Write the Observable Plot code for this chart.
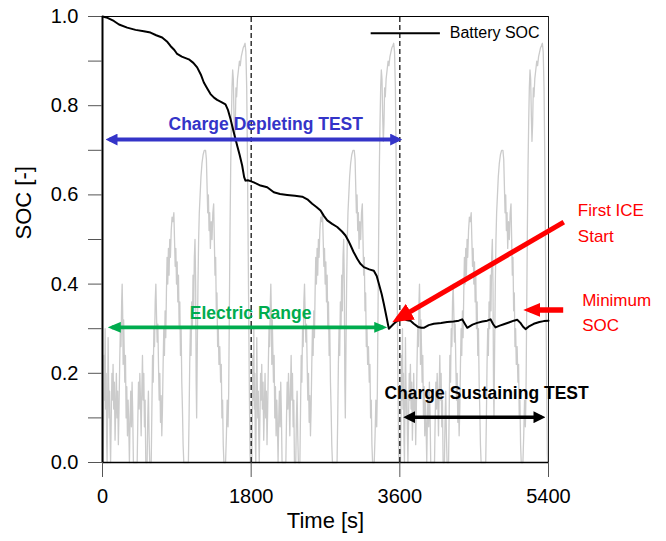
<!DOCTYPE html>
<html><head><meta charset="utf-8">
<script src="https://cdn.jsdelivr.net/npm/d3@7"></script>
<script src="https://cdn.jsdelivr.net/npm/@observablehq/plot@0.6"></script>
<style>html,body{margin:0;padding:0;background:#fff}</style>
</head><body><div id="chart"></div>
<script>
// ---- axes ----
const xTicks = [0, 1800, 3600, 5400];
const yTicks = [0, 0.1, 0.2, 0.3, 0.4, 0.5, 0.6, 0.7, 0.8, 0.9, 1.0];
const yTickLabels = ["0.0", "", "0.2", "", "0.4", "", "0.6", "", "0.8", "", "1.0"];

// ---- Battery SOC [time s, SOC] ----
const soc = [
  [0,1.0],[60,0.997],[137,0.990],[200,0.982],[299,0.975],[400,0.970],[500,0.967],[581,0.964],
  [650,0.958],[722,0.953],[780,0.944],[823,0.934],[870,0.925],[904,0.916],[960,0.910],[1045,0.904],
  [1100,0.896],[1146,0.886],[1190,0.870],[1227,0.852],[1270,0.838],[1308,0.826],[1350,0.818],
  [1388,0.813],[1440,0.808],[1489,0.803],[1520,0.790],[1550,0.770],[1590,0.740],[1631,0.710],
  [1660,0.690],[1691,0.666],[1715,0.640],[1731,0.632],[1760,0.633],[1792,0.631],[1832,0.628],
  [1913,0.621],[1994,0.617],[2074,0.606],[2150,0.602],[2236,0.600],[2330,0.598],[2418,0.596],
  [2480,0.590],[2539,0.580],[2590,0.573],[2640,0.565],[2680,0.553],[2721,0.543],[2780,0.535],
  [2842,0.528],[2900,0.518],[2942,0.509],[2975,0.498],[3003,0.487],[3040,0.472],[3084,0.457],
  [3120,0.446],[3164,0.438],[3230,0.433],[3285,0.430],[3320,0.418],[3346,0.401],[3380,0.378],
  [3406,0.356],[3440,0.325],[3467,0.300],[3500,0.306],[3527,0.311],[3570,0.318],[3608,0.320],
  [3648,0.322],[3690,0.319],[3729,0.318],[3769,0.311],[3820,0.304],[3860,0.302],[3890,0.302],
  [3950,0.308],[4011,0.311],[4100,0.313],[4173,0.315],[4250,0.316],[4314,0.318],[4355,0.321],
  [4390,0.310],[4416,0.302],[4480,0.309],[4537,0.313],[4600,0.316],[4658,0.318],[4698,0.321],
  [4730,0.310],[4759,0.303],[4810,0.307],[4859,0.310],[4920,0.314],[4980,0.318],[5021,0.320],
  [5060,0.313],[5090,0.305],[5122,0.299],[5170,0.306],[5222,0.311],[5290,0.315],[5343,0.317],[5400,0.318]
];

// ---- driving cycle (scaled vehicle speed), one 1800 s cycle, driven 3 times ----
const grayCycle = [
  [0,0],[8,0],[14,0.10],[20,0.24],[26,0.14],[32,0.30],[38,0.12],[44,0.20],[50,0.05],[56,0.0],
  [62,0.13],[68,0.28],[74,0.18],[80,0.10],[86,0.16],[92,0.06],[98,0.0],[106,0.10],[114,0.20],
  [120,0.14],[128,0.22],[136,0.12],[144,0.18],[152,0.05],[160,0.12],[168,0.20],[176,0.10],
  [184,0.16],[192,0.04],[200,0.12],[208,0.22],[216,0.30],[224,0.26],[232,0.36],[238,0.40],
  [244,0.34],[250,0.22],[256,0.32],[262,0.26],[270,0.18],[278,0.24],[286,0.10],[294,0.17],
  [302,0.06],[310,0.14],[318,0.08],[326,0.0],[334,0.10],[342,0.16],[350,0.08],[358,0.18],
  [366,0.11],[374,0.0],[420,0.0],[428,0.10],[436,0.18],[444,0.12],[452,0.20],[460,0.14],
  [468,0.06],[476,0.16],[484,0.24],[492,0.14],[500,0.20],[508,0.08],[516,0.14],[524,0.0],
  [540,0.0],[548,0.10],[556,0.16],[564,0.06],[572,0.0],
  [590,0.0],[598,0.12],[606,0.24],[614,0.18],[622,0.30],[630,0.26],[638,0.36],[646,0.40],
  [654,0.33],[662,0.27],[670,0.31],[678,0.22],[686,0.14],[694,0.20],[702,0.09],[710,0.15],
  [718,0.06],[726,0.12],[734,0.22],[742,0.30],[750,0.24],[758,0.34],[766,0.28],[774,0.38],
  [782,0.46],[790,0.40],[798,0.48],[806,0.42],[814,0.50],[822,0.46],[832,0.52],[842,0.55],
  [852,0.54],[864,0.56],[872,0.50],[880,0.44],[888,0.48],[896,0.40],[904,0.45],[912,0.36],
  [920,0.42],[928,0.30],[936,0.36],[944,0.24],[952,0.30],[960,0.18],[968,0.12],[976,0.04],
  [984,0.0],[1040,0.0],
  [1048,0.10],[1056,0.22],[1064,0.30],[1072,0.24],[1080,0.36],[1088,0.30],[1096,0.42],
  [1104,0.34],[1112,0.46],[1120,0.50],[1128,0.40],[1134,0.18],[1140,0.10],[1148,0.26],
  [1156,0.40],[1164,0.50],[1172,0.56],[1182,0.60],[1192,0.64],[1204,0.67],[1218,0.69],
  [1232,0.70],[1248,0.70],[1258,0.68],[1266,0.62],[1274,0.56],[1282,0.60],[1290,0.52],
  [1298,0.56],[1306,0.48],[1316,0.54],[1326,0.50],[1336,0.56],[1346,0.58],[1354,0.50],
  [1362,0.42],[1370,0.46],[1378,0.34],[1386,0.38],[1394,0.26],[1402,0.30],[1410,0.22],
  [1420,0.26],[1430,0.18],[1438,0.22],[1446,0.10],[1454,0.14],[1462,0.04],[1470,0.0],
  [1490,0.0],[1500,0.06],[1510,0.14],[1520,0.08],[1528,0.16],[1536,0.34],[1544,0.52],
  [1552,0.66],[1560,0.76],[1568,0.84],[1576,0.88],[1584,0.86],[1592,0.78],[1600,0.72],
  [1608,0.76],[1616,0.84],[1624,0.82],[1634,0.86],[1646,0.88],[1658,0.90],[1668,0.89],
  [1680,0.91],[1692,0.92],[1704,0.93],[1716,0.935],[1726,0.94],[1736,0.92],[1746,0.84],
  [1754,0.70],[1762,0.52],[1770,0.34],[1778,0.16],[1786,0.02],[1790,0.0],[1800,0.0]
];
const cycleStarts = [0, 1800, 3600];
const phaseBoundaries = [1800, 3600];

// ---- annotations (data coordinates) ----
const arrowNames = ["depleting", "range", "sustaining", "ice", "minimum"];
const arrowX1 = [85, 113, 3689, 5585, 5578];
const arrowY1 = [0.724, 0.303, 0.1016, 0.539, 0.342];
const arrowX2 = [3580, 3399, 5315, 3571, 5179];
const arrowY2 = [0.724, 0.303, 0.1016, 0.3213, 0.342];

const labelText = ["Charge Depleting TEST", "Electric Range", "Charge Sustaining TEST", "First ICE", "Start", "Minimum", "SOC"];
const labelX = [799, 1057, 3414, 5755, 5755, 5808, 5808];
const labelY = [0.759, 0.335, 0.156, 0.566, 0.506, 0.364, 0.308];

const legendLabel = "Battery SOC";
const legendLineX = [3253, 4091];
const legendY = 0.9626;
const legendTextX = 4205;

// ---- build ----
const grayData = cycleStarts.map((s, k) => grayCycle.map(([t, v]) => ({t: t + s, v, cycle: k}))).flat();
const socData = soc.map(([t, v]) => ({t, v}));
const arrows = arrowNames.map((name, i) => ({name, x1: arrowX1[i], y1: arrowY1[i], x2: arrowX2[i], y2: arrowY2[i]}));
const labels = labelText.map((text, i) => ({text, x: labelX[i], y: labelY[i]}));
const yLabelMap = new Map(yTicks.map((d, i) => [d, yTickLabels[i]]));

const BLUE = "#3434c8", GREEN = "#00ac4e", RED = "#ff0000";
const FONT = "'Liberation Sans', Arial, Helvetica, sans-serif";

const pick = (names) => arrows.filter(a => names.includes(a.name));
const lab = (idx) => labels.filter((d, i) => idx.includes(i));

const chart = Plot.plot({
  width: 666, height: 541,
  marginLeft: 102, marginRight: 118, marginTop: 16, marginBottom: 79,
  style: {fontFamily: FONT, background: "#fff", overflow: "visible"},
  x: {domain: [0, 5400]},
  y: {domain: [0, 1]},
  marks: [
    Plot.line(grayData, {x: "t", y: "v", z: "cycle", stroke: "#cbcbcb", strokeWidth: 1.3}),
    Plot.ruleX(phaseBoundaries, {y1: 0, y2: 1, stroke: "#000", strokeWidth: 1.2, strokeDasharray: "5,3"}),
    Plot.ruleY([1], {stroke: "#000", strokeWidth: 1}),
    Plot.ruleX([5400], {stroke: "#222", strokeWidth: 1}),
    Plot.ruleY([0], {stroke: "#000", strokeWidth: 1.5}),
    Plot.ruleX([0], {stroke: "#000", strokeWidth: 2}),
    Plot.axisY({ticks: yTicks, tickFormat: d => yLabelMap.get(d), tickSize: 14, tickPadding: 10, fontSize: 20, stroke: "#555", fill: "#000", label: null}),
    Plot.axisX({ticks: xTicks, tickFormat: d => String(d), tickSize: 15, tickPadding: 11, fontSize: 20, stroke: "#555", fill: "#000", label: null}),
    Plot.text(["Time [s]"], {frameAnchor: "bottom", dy: 65, fontSize: 22, fill: "#000"}),
    Plot.text(["SOC [-]"], {frameAnchor: "left", dx: -79, rotate: -90, fontSize: 22, fill: "#000"}),
    Plot.line(socData, {x: "t", y: "v", stroke: "#000", strokeWidth: 2}),
    // legend
    Plot.ruleY([legendY], {x1: legendLineX[0], x2: legendLineX[1], stroke: "#000", strokeWidth: 2}),
    Plot.text([legendLabel], {x: legendTextX, y: legendY, textAnchor: "start", fontSize: 16, fill: "#000"}),
    // arrows
    Plot.link(pick(["depleting"]), {x1: "x1", y1: "y1", x2: "x2", y2: "y2", stroke: BLUE, strokeWidth: 4, className: "arr-blue"}),
    Plot.link(pick(["range"]), {x1: "x1", y1: "y1", x2: "x2", y2: "y2", stroke: GREEN, strokeWidth: 3.6, className: "arr-green"}),
    Plot.link(pick(["sustaining"]), {x1: "x1", y1: "y1", x2: "x2", y2: "y2", stroke: "#000", strokeWidth: 3.6, className: "arr-black"}),
    Plot.link(pick(["ice"]), {x1: "x1", y1: "y1", x2: "x2", y2: "y2", stroke: RED, strokeWidth: 5, className: "arr-ice"}),
    Plot.link(pick(["minimum"]), {x1: "x1", y1: "y1", x2: "x2", y2: "y2", stroke: RED, strokeWidth: 5.5, className: "arr-min"}),
    // labels
    Plot.text(lab([0]), {x: "x", y: "y", text: "text", textAnchor: "start", fontSize: 17.5, fontWeight: "bold", fill: BLUE}),
    Plot.text(lab([1]), {x: "x", y: "y", text: "text", textAnchor: "start", fontSize: 17.5, fontWeight: "bold", fill: GREEN}),
    Plot.text(lab([2]), {x: "x", y: "y", text: "text", textAnchor: "start", fontSize: 17.5, fontWeight: "bold", fill: "#000"}),
    Plot.text(lab([3, 4, 5, 6]), {x: "x", y: "y", text: "text", textAnchor: "start", fontSize: 17, fill: RED})
  ]
});

// filled arrowheads
const svg = d3.select(chart);
const defs = svg.append("defs");
function addMarker(id, color, L, H, inset) {
  defs.append("marker").attr("id", id).attr("markerUnits", "userSpaceOnUse")
    .attr("viewBox", `0 ${-H / 2} ${L} ${H}`).attr("markerWidth", L).attr("markerHeight", H)
    .attr("refX", L - inset).attr("refY", 0).attr("orient", "auto-start-reverse")
    .append("path").attr("d", `M0,${-H / 2}L${L},0L0,${H / 2}Z`).attr("fill", color);
}
addMarker("m-blue", BLUE, 12, 12, 4);
addMarker("m-green", GREEN, 13, 11, 4);
addMarker("m-black", "#000", 12, 12, 4);
addMarker("m-ice", RED, 21, 18, 6);
addMarker("m-min", RED, 17, 14, 7);
svg.selectAll("g.arr-blue path").attr("marker-start", "url(#m-blue)").attr("marker-end", "url(#m-blue)");
svg.selectAll("g.arr-green path").attr("marker-start", "url(#m-green)").attr("marker-end", "url(#m-green)");
svg.selectAll("g.arr-black path").attr("marker-start", "url(#m-black)").attr("marker-end", "url(#m-black)");
svg.selectAll("g.arr-ice path").attr("marker-end", "url(#m-ice)");
svg.selectAll("g.arr-min path").attr("marker-end", "url(#m-min)");

document.getElementById("chart").appendChild(chart);
</script>
</body></html>
